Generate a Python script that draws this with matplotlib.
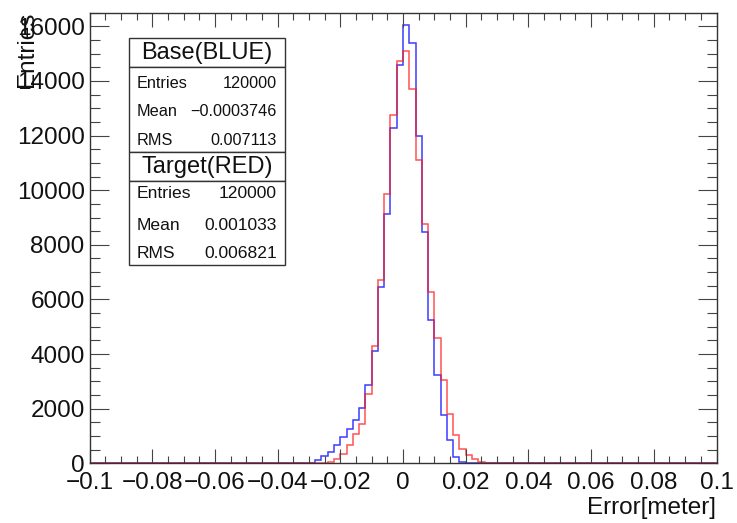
import numpy as np
import matplotlib
matplotlib.use("Agg")
import matplotlib.pyplot as plt
from matplotlib.ticker import MultipleLocator, FuncFormatter
from matplotlib.patches import Rectangle

plt.rcParams['font.family'] = ['Liberation Sans', 'DejaVu Sans']

# Histogram binning: 100 bins over [-0.1, 0.1]
x_min, x_max, n_bins = -0.1, 0.1, 100

# Bin contents of the non-empty region of each histogram (first bin's low edge given)
blue_first_edge = -0.030
blue_counts = [15, 135, 255, 415, 660, 965, 1270, 1600, 2040, 2860,
               4100, 6470, 9120, 12260, 14580, 16050, 15380, 11975, 8480, 5230,
               3230, 1760, 845, 230, 50, 5]

red_first_edge = -0.028
red_counts = [3, 10, 50, 170, 355, 660, 1090, 1455, 2530, 4280,
              6715, 9845, 12770, 14730, 15090, 13710, 11120, 8770, 6280, 4575,
              3045, 1820, 1030, 540, 290, 170, 50, 20, 15]

# Statistics boxes
blue_title = "Base(BLUE)"
red_title = "Target(RED)"
stat_names = ["Entries", "Mean", "RMS"]
blue_stats = ["120000", "\u22120.0003746", "0.007113"]
red_stats = ["120000", "0.001033", "0.006821"]

y_max = 16500


def full_hist(first_edge, counts):
    edges = np.linspace(x_min, x_max, n_bins + 1)
    vals = np.zeros(n_bins)
    start = int(round((first_edge - x_min) / (x_max - x_min) * n_bins))
    vals[start:start + len(counts)] = counts
    return edges, vals


W, H = 737, 523
fig = plt.figure(figsize=(W / 100, H / 100), dpi=100)


def fx(px):
    return px / W


def fy(py):
    return 1 - py / H


left, right, top, bottom = 89.5, 716.5, 12.7, 463.3
ax = fig.add_axes([fx(left), fy(bottom), fx(right) - fx(left), fy(top) - fy(bottom)])

e, b = full_hist(blue_first_edge, blue_counts)
ax.stairs(b, e, baseline=None, color='#1a1aff', lw=1.1, alpha=0.85)
e, r = full_hist(red_first_edge, red_counts)
ax.stairs(r, e, baseline=None, color='#ff1a1a', lw=1.1, alpha=0.75)

ax.set_xlim(x_min, x_max)
ax.set_ylim(0, y_max)

ax.xaxis.set_major_locator(MultipleLocator(0.02))
ax.xaxis.set_minor_locator(MultipleLocator(0.005))
ax.yaxis.set_major_locator(MultipleLocator(2000))
ax.yaxis.set_minor_locator(MultipleLocator(500))


def xfmt(v, pos):
    s = f"{v:.2f}".rstrip('0').rstrip('.')
    if abs(v) < 1e-9:
        s = "0"
    return s.replace('-', '\u2212')


ax.xaxis.set_major_formatter(FuncFormatter(xfmt))
ax.yaxis.set_major_formatter(FuncFormatter(lambda v, p: f"{int(round(v))}"))

for sp in ax.spines.values():
    sp.set_linewidth(1.0)
    sp.set_color('#333333')

ax.tick_params(axis='both', which='both', direction='in', top=True, right=True,
               color='#444444', width=0.8, labelsize=17.5, labelcolor='#111111')
ax.tick_params(axis='x', which='major', length=10, pad=6)
ax.tick_params(axis='x', which='minor', length=5)
ax.tick_params(axis='y', which='major', length=14, pad=3.5)
ax.tick_params(axis='y', which='minor', length=7.5)

fig.text(fx(27), fy(12), "Entries", rotation=90, ha='center', va='top',
         fontsize=17.5, color='#111111')
fig.text(fx(716), fy(508), "Error[meter]", ha='right', va='center',
         fontsize=17.5, color='#111111')


def box(x0, y0, x1, y1):
    fig.patches.append(Rectangle((fx(x0), fy(y1)), fx(x1) - fx(x0), fy(y0) - fy(y1),
                                 transform=fig.transFigure, fill=True,
                                 facecolor='white', edgecolor='#333333', lw=1.0,
                                 zorder=5))


def stats_box(y_title0, y_title1, y_end, title, values, size, rows):
    bx0, bx1 = 129, 285
    box(bx0, y_title0, bx1, y_title1)
    box(bx0, y_title1, bx1, y_end)
    fig.text(fx((bx0 + bx1) / 2), fy((y_title0 + y_title1) / 2 + 1), title,
             ha='center', va='center', fontsize=17, color='#111111', zorder=6)
    for name, val, yy in zip(stat_names, values, rows):
        fig.text(fx(137), fy(yy), name, ha='left', va='center',
                 fontsize=size, color='#111111', zorder=6)
        fig.text(fx(277), fy(yy), val, ha='right', va='center',
                 fontsize=size, color='#111111', zorder=6)


stats_box(38, 67, 152, blue_title, blue_stats, 11.7, [83, 112, 140])
stats_box(152, 181, 265, red_title, red_stats, 12.6, [194, 225, 254])

fig.savefig("out.png", dpi=100)
